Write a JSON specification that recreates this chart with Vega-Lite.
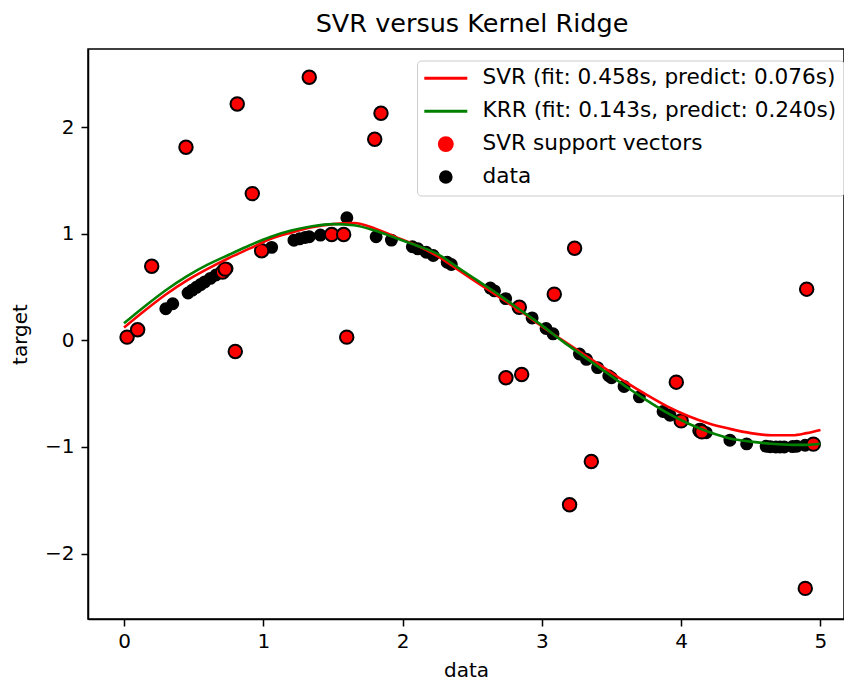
{
  "$schema": "https://vega.github.io/schema/vega-lite/v6.json",
  "width": 756,
  "height": 570,
  "autosize": {"type": "none"},
  "padding": {"left": 88, "top": 49, "right": 0, "bottom": 62},
  "title": {"text": "SVR versus Kernel Ridge", "fontSize": 25.5, "font": "DejaVu Sans", "fontWeight": "normal", "color": "#000000", "anchor": "middle", "dx": 6, "dy": 25, "baseline": "alphabetic", "offset": 17},
  "datasets": {
    "data_points": [
      {"x": 0.30, "y": 0.296, "series": "data"}, {"x": 0.35, "y": 0.343, "series": "data"},
      {"x": 0.46, "y": 0.444, "series": "data"}, {"x": 0.49, "y": 0.471, "series": "data"},
      {"x": 0.52, "y": 0.497, "series": "data"}, {"x": 0.55, "y": 0.523, "series": "data"},
      {"x": 0.58, "y": 0.548, "series": "data"}, {"x": 0.62, "y": 0.581, "series": "data"},
      {"x": 0.66, "y": 0.613, "series": "data"}, {"x": 0.74, "y": 0.674, "series": "data"},
      {"x": 1.06, "y": 0.872, "series": "data"}, {"x": 1.22, "y": 0.939, "series": "data"},
      {"x": 1.26, "y": 0.952, "series": "data"}, {"x": 1.30, "y": 0.964, "series": "data"},
      {"x": 1.33, "y": 0.971, "series": "data"}, {"x": 1.41, "y": 0.987, "series": "data"},
      {"x": 1.60, "y": 1.15, "series": "data"}, {"x": 1.81, "y": 0.971, "series": "data"},
      {"x": 1.92, "y": 0.940, "series": "data"}, {"x": 2.07, "y": 0.878, "series": "data"},
      {"x": 2.11, "y": 0.858, "series": "data"}, {"x": 2.17, "y": 0.826, "series": "data"},
      {"x": 2.22, "y": 0.796, "series": "data"}, {"x": 2.32, "y": 0.732, "series": "data"},
      {"x": 2.35, "y": 0.711, "series": "data"}, {"x": 2.63, "y": 0.490, "series": "data"},
      {"x": 2.66, "y": 0.464, "series": "data"}, {"x": 2.74, "y": 0.391, "series": "data"},
      {"x": 2.93, "y": 0.210, "series": "data"}, {"x": 3.03, "y": 0.111, "series": "data"},
      {"x": 3.08, "y": 0.061, "series": "data"}, {"x": 3.27, "y": -0.128, "series": "data"},
      {"x": 3.32, "y": -0.178, "series": "data"}, {"x": 3.40, "y": -0.256, "series": "data"},
      {"x": 3.48, "y": -0.332, "series": "data"}, {"x": 3.50, "y": -0.351, "series": "data"},
      {"x": 3.59, "y": -0.432, "series": "data"}, {"x": 3.70, "y": -0.530, "series": "data"},
      {"x": 3.87, "y": -0.667, "series": "data"}, {"x": 3.92, "y": -0.702, "series": "data"},
      {"x": 4.18, "y": -0.866, "series": "data"}, {"x": 4.35, "y": -0.936, "series": "data"},
      {"x": 4.47, "y": -0.971, "series": "data"}, {"x": 4.61, "y": -0.994, "series": "data"},
      {"x": 4.64, "y": -0.998, "series": "data"}, {"x": 4.68, "y": -1.0, "series": "data"},
      {"x": 4.71, "y": -1.0, "series": "data"}, {"x": 4.74, "y": -1.0, "series": "data"},
      {"x": 4.80, "y": -0.996, "series": "data"}, {"x": 4.83, "y": -0.993, "series": "data"},
      {"x": 4.89, "y": -0.984, "series": "data"}
    ],
    "support_vectors": [
      {"x": 0.022, "y": 0.03, "series": "SVR support vectors"},
      {"x": 0.098, "y": 0.10, "series": "SVR support vectors"},
      {"x": 0.199, "y": 0.695, "series": "SVR support vectors"},
      {"x": 0.445, "y": 1.811, "series": "SVR support vectors"},
      {"x": 0.708, "y": 0.640, "series": "SVR support vectors"},
      {"x": 0.727, "y": 0.668, "series": "SVR support vectors"},
      {"x": 0.799, "y": -0.105, "series": "SVR support vectors"},
      {"x": 0.813, "y": 2.217, "series": "SVR support vectors"},
      {"x": 0.921, "y": 1.376, "series": "SVR support vectors"},
      {"x": 0.988, "y": 0.840, "series": "SVR support vectors"},
      {"x": 1.330, "y": 2.467, "series": "SVR support vectors"},
      {"x": 1.491, "y": 0.992, "series": "SVR support vectors"},
      {"x": 1.577, "y": 0.992, "series": "SVR support vectors"},
      {"x": 1.599, "y": 0.03, "series": "SVR support vectors"},
      {"x": 1.800, "y": 1.886, "series": "SVR support vectors"},
      {"x": 1.845, "y": 2.129, "series": "SVR support vectors"},
      {"x": 2.742, "y": -0.351, "series": "SVR support vectors"},
      {"x": 2.838, "y": 0.31, "series": "SVR support vectors"},
      {"x": 2.855, "y": -0.320, "series": "SVR support vectors"},
      {"x": 3.089, "y": 0.433, "series": "SVR support vectors"},
      {"x": 3.199, "y": -1.542, "series": "SVR support vectors"},
      {"x": 3.235, "y": 0.864, "series": "SVR support vectors"},
      {"x": 3.355, "y": -1.136, "series": "SVR support vectors"},
      {"x": 3.965, "y": -0.392, "series": "SVR support vectors"},
      {"x": 4.000, "y": -0.755, "series": "SVR support vectors"},
      {"x": 4.135, "y": -0.845, "series": "SVR support vectors"},
      {"x": 4.149, "y": -0.858, "series": "SVR support vectors"},
      {"x": 4.891, "y": -2.326, "series": "SVR support vectors"},
      {"x": 4.901, "y": 0.480, "series": "SVR support vectors"},
      {"x": 4.949, "y": -0.973, "series": "SVR support vectors"}
    ],
    "curves": [
      {"x": 0.00, "y": 0.12, "series": "SVR (fit: 0.458s, predict: 0.076s)"},
      {"x": 0.15, "y": 0.28, "series": "SVR (fit: 0.458s, predict: 0.076s)"},
      {"x": 0.30, "y": 0.43, "series": "SVR (fit: 0.458s, predict: 0.076s)"},
      {"x": 0.45, "y": 0.56, "series": "SVR (fit: 0.458s, predict: 0.076s)"},
      {"x": 0.60, "y": 0.67, "series": "SVR (fit: 0.458s, predict: 0.076s)"},
      {"x": 0.75, "y": 0.77, "series": "SVR (fit: 0.458s, predict: 0.076s)"},
      {"x": 0.90, "y": 0.86, "series": "SVR (fit: 0.458s, predict: 0.076s)"},
      {"x": 1.05, "y": 0.95, "series": "SVR (fit: 0.458s, predict: 0.076s)"},
      {"x": 1.20, "y": 1.01, "series": "SVR (fit: 0.458s, predict: 0.076s)"},
      {"x": 1.35, "y": 1.06, "series": "SVR (fit: 0.458s, predict: 0.076s)"},
      {"x": 1.50, "y": 1.09, "series": "SVR (fit: 0.458s, predict: 0.076s)"},
      {"x": 1.65, "y": 1.10, "series": "SVR (fit: 0.458s, predict: 0.076s)"},
      {"x": 1.80, "y": 1.05, "series": "SVR (fit: 0.458s, predict: 0.076s)"},
      {"x": 1.95, "y": 0.97, "series": "SVR (fit: 0.458s, predict: 0.076s)"},
      {"x": 2.10, "y": 0.89, "series": "SVR (fit: 0.458s, predict: 0.076s)"},
      {"x": 2.25, "y": 0.79, "series": "SVR (fit: 0.458s, predict: 0.076s)"},
      {"x": 2.40, "y": 0.66, "series": "SVR (fit: 0.458s, predict: 0.076s)"},
      {"x": 2.55, "y": 0.53, "series": "SVR (fit: 0.458s, predict: 0.076s)"},
      {"x": 2.70, "y": 0.40, "series": "SVR (fit: 0.458s, predict: 0.076s)"},
      {"x": 2.85, "y": 0.27, "series": "SVR (fit: 0.458s, predict: 0.076s)"},
      {"x": 3.00, "y": 0.13, "series": "SVR (fit: 0.458s, predict: 0.076s)"},
      {"x": 3.15, "y": 0.00, "series": "SVR (fit: 0.458s, predict: 0.076s)"},
      {"x": 3.30, "y": -0.13, "series": "SVR (fit: 0.458s, predict: 0.076s)"},
      {"x": 3.45, "y": -0.26, "series": "SVR (fit: 0.458s, predict: 0.076s)"},
      {"x": 3.60, "y": -0.39, "series": "SVR (fit: 0.458s, predict: 0.076s)"},
      {"x": 3.75, "y": -0.51, "series": "SVR (fit: 0.458s, predict: 0.076s)"},
      {"x": 3.90, "y": -0.62, "series": "SVR (fit: 0.458s, predict: 0.076s)"},
      {"x": 4.05, "y": -0.71, "series": "SVR (fit: 0.458s, predict: 0.076s)"},
      {"x": 4.20, "y": -0.78, "series": "SVR (fit: 0.458s, predict: 0.076s)"},
      {"x": 4.35, "y": -0.83, "series": "SVR (fit: 0.458s, predict: 0.076s)"},
      {"x": 4.50, "y": -0.87, "series": "SVR (fit: 0.458s, predict: 0.076s)"},
      {"x": 4.65, "y": -0.89, "series": "SVR (fit: 0.458s, predict: 0.076s)"},
      {"x": 4.80, "y": -0.89, "series": "SVR (fit: 0.458s, predict: 0.076s)"},
      {"x": 4.90, "y": -0.87, "series": "SVR (fit: 0.458s, predict: 0.076s)"},
      {"x": 5.00, "y": -0.84, "series": "SVR (fit: 0.458s, predict: 0.076s)"},
      {"x": 0.00, "y": 0.16, "series": "KRR (fit: 0.143s, predict: 0.240s)"},
      {"x": 0.15, "y": 0.32, "series": "KRR (fit: 0.143s, predict: 0.240s)"},
      {"x": 0.30, "y": 0.47, "series": "KRR (fit: 0.143s, predict: 0.240s)"},
      {"x": 0.45, "y": 0.60, "series": "KRR (fit: 0.143s, predict: 0.240s)"},
      {"x": 0.60, "y": 0.71, "series": "KRR (fit: 0.143s, predict: 0.240s)"},
      {"x": 0.75, "y": 0.80, "series": "KRR (fit: 0.143s, predict: 0.240s)"},
      {"x": 0.90, "y": 0.89, "series": "KRR (fit: 0.143s, predict: 0.240s)"},
      {"x": 1.05, "y": 0.97, "series": "KRR (fit: 0.143s, predict: 0.240s)"},
      {"x": 1.20, "y": 1.03, "series": "KRR (fit: 0.143s, predict: 0.240s)"},
      {"x": 1.35, "y": 1.07, "series": "KRR (fit: 0.143s, predict: 0.240s)"},
      {"x": 1.50, "y": 1.09, "series": "KRR (fit: 0.143s, predict: 0.240s)"},
      {"x": 1.65, "y": 1.08, "series": "KRR (fit: 0.143s, predict: 0.240s)"},
      {"x": 1.80, "y": 1.03, "series": "KRR (fit: 0.143s, predict: 0.240s)"},
      {"x": 1.95, "y": 0.96, "series": "KRR (fit: 0.143s, predict: 0.240s)"},
      {"x": 2.10, "y": 0.89, "series": "KRR (fit: 0.143s, predict: 0.240s)"},
      {"x": 2.25, "y": 0.81, "series": "KRR (fit: 0.143s, predict: 0.240s)"},
      {"x": 2.40, "y": 0.68, "series": "KRR (fit: 0.143s, predict: 0.240s)"},
      {"x": 2.55, "y": 0.55, "series": "KRR (fit: 0.143s, predict: 0.240s)"},
      {"x": 2.70, "y": 0.42, "series": "KRR (fit: 0.143s, predict: 0.240s)"},
      {"x": 2.85, "y": 0.28, "series": "KRR (fit: 0.143s, predict: 0.240s)"},
      {"x": 3.00, "y": 0.14, "series": "KRR (fit: 0.143s, predict: 0.240s)"},
      {"x": 3.15, "y": -0.01, "series": "KRR (fit: 0.143s, predict: 0.240s)"},
      {"x": 3.30, "y": -0.15, "series": "KRR (fit: 0.143s, predict: 0.240s)"},
      {"x": 3.45, "y": -0.29, "series": "KRR (fit: 0.143s, predict: 0.240s)"},
      {"x": 3.60, "y": -0.43, "series": "KRR (fit: 0.143s, predict: 0.240s)"},
      {"x": 3.75, "y": -0.56, "series": "KRR (fit: 0.143s, predict: 0.240s)"},
      {"x": 3.90, "y": -0.68, "series": "KRR (fit: 0.143s, predict: 0.240s)"},
      {"x": 4.05, "y": -0.78, "series": "KRR (fit: 0.143s, predict: 0.240s)"},
      {"x": 4.20, "y": -0.86, "series": "KRR (fit: 0.143s, predict: 0.240s)"},
      {"x": 4.35, "y": -0.92, "series": "KRR (fit: 0.143s, predict: 0.240s)"},
      {"x": 4.50, "y": -0.95, "series": "KRR (fit: 0.143s, predict: 0.240s)"},
      {"x": 4.65, "y": -0.97, "series": "KRR (fit: 0.143s, predict: 0.240s)"},
      {"x": 4.80, "y": -0.98, "series": "KRR (fit: 0.143s, predict: 0.240s)"},
      {"x": 4.90, "y": -0.98, "series": "KRR (fit: 0.143s, predict: 0.240s)"},
      {"x": 5.00, "y": -0.97, "series": "KRR (fit: 0.143s, predict: 0.240s)"}
    ]
  },
  "encoding": {
    "x": {
      "field": "x", "type": "quantitative",
      "scale": {"domain": [-0.2584, 5.169], "nice": false, "zero": false},
      "axis": {"values": [0, 1, 2, 3, 4, 5], "format": "d", "grid": false, "title": "data", "tickSize": 7, "tickWidth": 1.5, "tickColor": "#000000", "domainColor": "#000000", "domainWidth": 1.5, "labelFontSize": 20, "labelColor": "#000000", "labelPadding": 5, "titleFontSize": 20, "titleFontWeight": "normal", "titleColor": "#000000", "titlePadding": 9, "labelFlush": false}
    },
    "y": {
      "field": "y", "type": "quantitative",
      "scale": {"domain": [-2.613, 2.732], "nice": false, "zero": false},
      "axis": {"values": [-2, -1, 0, 1, 2], "format": "d", "grid": false, "title": "target", "tickSize": 7, "tickWidth": 1.5, "tickColor": "#000000", "domainColor": "#000000", "domainWidth": 1.5, "labelFontSize": 20, "labelColor": "#000000", "labelPadding": 7, "titleFontSize": 20, "titleFontWeight": "normal", "titleColor": "#000000", "titlePadding": 14, "labelFlush": false}
    },
    "color": {
      "field": "series", "type": "nominal",
      "scale": {
        "domain": ["SVR (fit: 0.458s, predict: 0.076s)", "KRR (fit: 0.143s, predict: 0.240s)", "SVR support vectors", "data"],
        "range": ["#ff0000", "#008000", "#ff0000", "#000000"]
      },
      "legend": {
        "title": null, "orient": "none", "legendX": 329, "legendY": 11.5,
        "padding": 7, "rowPadding": 9.9,
        "symbolSize": 1849, "symbolStrokeWidth": 3, "symbolOffset": 11, "labelOffset": 26,
        "labelFontSize": 21.6, "labelFont": "DejaVu Sans", "labelColor": "#000000", "labelLimit": 600,
        "fillColor": "rgba(255,255,255,0.8)", "strokeColor": "#cccccc", "cornerRadius": 4,
        "encoding": {
          "symbols": {
            "shape": {"value": {"expr": "datum.index < 2 ? 'stroke' : 'circle'"}},
            "size": {"value": {"expr": "datum.index < 2 ? 1849 : (datum.index == 2 ? 200 : 140)"}},
            "fill": {"value": {"expr": "datum.index == 2 ? '#ff0000' : (datum.index == 3 ? '#000000' : 'transparent')"}},
            "stroke": {"value": {"expr": "datum.index == 0 ? '#ff0000' : (datum.index == 1 ? '#008000' : '#000000')"}},
            "strokeWidth": {"value": {"expr": "datum.index < 2 ? 3 : 1.8"}},
            "opacity": {"value": 1}
          }
        }
      }
    }
  },
  "layer": [
    {"data": {"name": "data_points"}, "mark": {"type": "circle", "size": 131, "opacity": 1, "stroke": "#000000", "strokeWidth": 1.5}},
    {"data": {"name": "support_vectors"}, "mark": {"type": "circle", "size": 181, "opacity": 1, "stroke": "#000000", "strokeWidth": 2}},
    {"data": {"name": "curves"}, "mark": {"type": "line", "strokeWidth": 2.6, "interpolate": "monotone"}}
  ],
  "config": {
    "font": "DejaVu Sans",
    "view": {"stroke": "#000000", "strokeWidth": 1.5},
    "background": "#ffffff"
  }
}
